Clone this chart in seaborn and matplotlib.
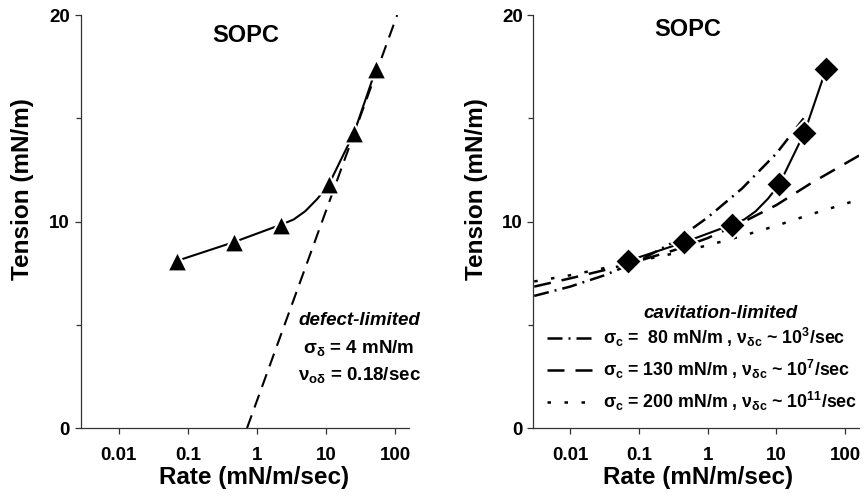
import matplotlib
matplotlib.use("Agg")
import matplotlib.pyplot as plt
import matplotlib.ticker as mticker
import seaborn as sns

# measured points (same data in both panels)
rate = [0.07, 0.46, 2.24, 11.0, 25.5, 53.0]
tension = [8.1, 9.0, 9.85, 11.8, 14.3, 17.4]

# smooth curve drawn through the data
fit_rate = [0.07, 0.46, 2.24, 3.4, 5.0, 7.5, 11.0, 25.5, 53.0]
fit_tension = [8.1, 9.0, 9.85, 10.1, 10.5, 11.1, 11.8, 14.3, 17.4]

# defect-limited line (left panel)
defect_rate = [0.72, 107.0]
defect_tension = [0.0, 20.0]

# cavitation-limited curves (right panel)
cav80_rate = [0.003, 0.01, 0.0316, 0.1, 0.316, 1.0, 3.16, 10.0, 25.0]
cav80_tension = [6.4, 6.85, 7.4, 8.1, 9.0, 10.2, 11.6, 13.3, 15.0]
cav_rate = [0.003, 0.01, 0.0316, 0.1, 0.316, 1.0, 3.16, 10.0, 31.6, 160.0]
cav130_tension = [6.85, 7.25, 7.65, 8.1, 8.6, 9.2, 9.95, 10.8, 11.85, 13.2]
cav200_tension = [7.1, 7.4, 7.75, 8.1, 8.45, 8.85, 9.3, 9.8, 10.35, 11.07]

x_ticks = [0.01, 0.1, 1, 10, 100]
x_tick_labels = ["0.01", "0.1", "1", "10", "100"]
y_ticks = [0, 10, 20]
y_minor = [5, 15]

sns.set_theme(style="ticks")
plt.rcParams['font.family'] = ['Liberation Sans', 'DejaVu Sans']
plt.rcParams['font.weight'] = 'bold'
plt.rcParams['text.color'] = 'black'
plt.rcParams['axes.labelcolor'] = 'black'
plt.rcParams['mathtext.fontset'] = 'custom'
plt.rcParams['mathtext.rm'] = 'Liberation Sans'
plt.rcParams['mathtext.it'] = 'Liberation Sans:italic'
plt.rcParams['mathtext.bf'] = 'Liberation Sans:bold'

fig = plt.figure(figsize=(8.67, 5.03), dpi=100)
ax1 = fig.add_axes([0.094, 0.149, 0.378, 0.821])
ax2 = fig.add_axes([0.615, 0.149, 0.376, 0.821])


def style_axes(ax, ylab_x, xlab_x, ypad):
    ax.set_xscale('log')
    ax.set_xlim(0.0029, 160)
    ax.set_ylim(0, 20)
    ax.xaxis.set_major_locator(mticker.FixedLocator(x_ticks))
    ax.xaxis.set_major_formatter(mticker.FixedFormatter(x_tick_labels))
    ax.xaxis.set_minor_locator(mticker.NullLocator())
    ax.yaxis.set_major_locator(mticker.FixedLocator(y_ticks))
    ax.yaxis.set_minor_locator(mticker.FixedLocator(y_minor))
    ax.tick_params(which='major', length=4.5, width=0.9, labelsize=13.5,
                   color='#333333', labelcolor='black')
    ax.tick_params(which='minor', length=3.5, width=0.9, color='#333333')
    ax.tick_params(axis='x', pad=9)
    ax.tick_params(axis='y', pad=ypad)
    sns.despine(ax=ax)
    for s in ['left', 'bottom']:
        ax.spines[s].set_linewidth(0.9)
        ax.spines[s].set_color('#333333')
    ax.set_xlabel('Rate (mN/m/sec)', fontsize=17.5, fontweight='bold', color='black')
    ax.set_ylabel('Tension (mN/m)', fontsize=17.5, fontweight='bold', color='black')
    ax.yaxis.set_label_coords(ylab_x, 0.579)
    ax.xaxis.set_label_coords(xlab_x, -0.093)
    ax.grid(False)


# left panel
sns.lineplot(x=defect_rate, y=defect_tension, ax=ax1, color='black',
             lw=1.5, linestyle=(0, (6.5, 4)), estimator=None, sort=False)
sns.lineplot(x=fit_rate, y=fit_tension, ax=ax1, color='black', lw=1.5,
             estimator=None, sort=False)
sns.scatterplot(x=rate, y=tension, ax=ax1, marker='^', s=205, color='black',
                edgecolor='white', linewidth=1.5, zorder=5)
style_axes(ax1, -0.145, 0.527, 4)
ax1.text(0.502, 0.951, 'SOPC', transform=ax1.transAxes, ha='center', va='center',
         fontsize=17, fontweight='bold')
ax1.text(0.847, 0.261, 'defect-limited', transform=ax1.transAxes, ha='center',
         va='center', fontsize=13.5, fontweight='bold', fontstyle='italic')
ax1.text(0.847, 0.194, r'$\mathrm{\sigma_\delta}$ = 4 mN/m', transform=ax1.transAxes,
         ha='center', va='center', fontsize=13.5, fontweight='bold')
ax1.text(0.847, 0.128, r'$\mathrm{\nu_{o\delta}}$ = 0.18/sec', transform=ax1.transAxes,
         ha='center', va='center', fontsize=13.5, fontweight='bold')

# right panel
sns.lineplot(x=cav80_rate, y=cav80_tension, ax=ax2, color='black', lw=1.8,
             linestyle=(0, (6, 2.4, 0.8, 2.4)), estimator=None, sort=False)
h80 = ax2.lines[-1]
sns.lineplot(x=cav_rate, y=cav130_tension, ax=ax2, color='black', lw=1.8,
             linestyle=(0, (6.8, 4.4)), estimator=None, sort=False)
h130 = ax2.lines[-1]
sns.lineplot(x=cav_rate, y=cav200_tension, ax=ax2, color='black', lw=1.8,
             linestyle=(0, (1.4, 5.4)), estimator=None, sort=False)
h200 = ax2.lines[-1]
sns.lineplot(x=fit_rate, y=fit_tension, ax=ax2, color='black', lw=1.5,
             estimator=None, sort=False)
sns.scatterplot(x=rate, y=tension, ax=ax2, marker='D', s=185, color='black',
                edgecolor='white', linewidth=1.5, zorder=5)
style_axes(ax2, -0.138, 0.506, 3)
ax2.text(0.475, 0.964, 'SOPC', transform=ax2.transAxes, ha='center', va='center',
         fontsize=17, fontweight='bold')
ax2.text(0.574, 0.277, 'cavitation-limited', transform=ax2.transAxes, ha='center',
         va='center', fontsize=13.5, fontweight='bold', fontstyle='italic')
labels = [
    r'$\mathrm{\sigma_c}$ =  80 mN/m , $\mathrm{\nu_{\delta c}}$ ~ 10$^{\mathbf{3}}$/sec',
    r'$\mathrm{\sigma_c}$ = 130 mN/m , $\mathrm{\nu_{\delta c}}$ ~ 10$^{\mathbf{7}}$/sec',
    r'$\mathrm{\sigma_c}$ = 200 mN/m , $\mathrm{\nu_{\delta c}}$ ~ 10$^{\mathbf{11}}$/sec',
]
ax2.legend(handles=[h80, h130, h200], labels=labels, loc='upper left',
           bbox_to_anchor=(0.043, 0.247), frameon=False, handlelength=2.6,
           handletextpad=0.55, labelspacing=0.5, borderpad=0, borderaxespad=0,
           prop={'size': 12.8, 'weight': 'bold'})

fig.savefig('out.png', dpi=100)
